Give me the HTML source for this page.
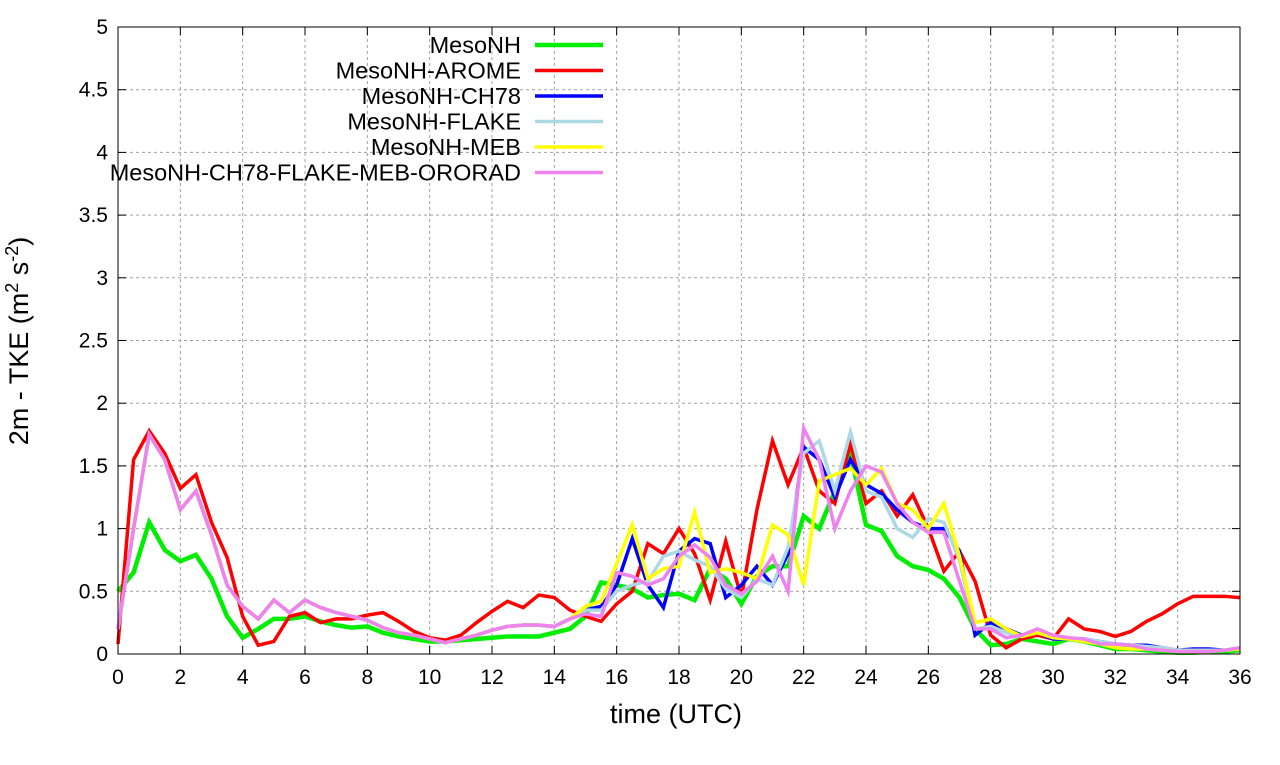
<!DOCTYPE html>
<html><head><meta charset="utf-8"><style>
body{margin:0;background:#fff}
svg text{font-family:"Liberation Sans",sans-serif}
</style></head><body>
<svg id="chart" width="1280" height="760"></svg>
<script>
const hours=[];for(let i=0;i<=72;i++)hours.push(i*0.5);
const early=[0.2,1.0,1.75,1.55,1.15,1.3,0.95,0.55,0.38,0.28,0.43,0.33,0.43,0.37,0.33,0.3,0.27,0.21,0.17,0.15,0.12,0.09,0.12,0.15,0.19,0.22,0.23,0.23,0.22,0.28];
const mesonh=[0.5,0.65,1.05,0.83,0.74,0.79,0.6,0.3,0.13,0.2,0.28,0.28,0.3,0.26,0.23,0.21,0.22,0.17,0.14,0.12,0.1,0.1,0.11,0.12,0.13,0.14,0.14,0.14,0.17,0.2,0.3,0.57,0.55,0.52,0.45,0.47,0.48,0.43,0.68,0.6,0.4,0.62,0.7,0.7,1.1,1.0,1.3,1.6,1.03,0.98,0.78,0.7,0.67,0.6,0.45,0.2,0.07,0.08,0.12,0.1,0.08,0.12,0.1,0.07,0.04,0.04,0.03,0.02,0.01,0.01,0.02,0.02,0.03];
const arome=[0.08,1.55,1.78,1.6,1.32,1.43,1.05,0.77,0.3,0.07,0.1,0.3,0.33,0.25,0.28,0.28,0.31,0.33,0.26,0.18,0.13,0.11,0.15,0.25,0.34,0.42,0.37,0.47,0.45,0.35,0.3,0.26,0.4,0.5,0.88,0.8,1.0,0.8,0.43,0.9,0.45,1.15,1.7,1.35,1.65,1.3,1.2,1.68,1.2,1.3,1.1,1.27,1.0,0.66,0.82,0.58,0.15,0.05,0.12,0.15,0.12,0.28,0.2,0.18,0.14,0.18,0.26,0.32,0.4,0.46,0.46,0.46,0.45];
const ch78=early.concat([0.35,0.38,0.55,0.92,0.55,0.37,0.82,0.92,0.88,0.45,0.55,0.7,0.55,0.8,1.65,1.55,1.25,1.55,1.35,1.28,1.15,1.05,1.0,1.0,0.82,0.15,0.25,0.2,0.15,0.17,0.12,0.12,0.12,0.1,0.08,0.07,0.07,0.05,0.03,0.04,0.04,0.03,0.04]);
const flake=early.concat([0.35,0.35,0.5,0.55,0.58,0.78,0.82,0.75,0.7,0.52,0.45,0.6,0.55,0.85,1.6,1.7,1.3,1.77,1.3,1.25,1.0,0.93,1.08,1.05,0.75,0.2,0.22,0.17,0.14,0.17,0.13,0.12,0.12,0.1,0.08,0.07,0.06,0.05,0.03,0.03,0.03,0.03,0.04]);
const meb=early.concat([0.38,0.42,0.72,1.03,0.6,0.68,0.7,1.13,0.65,0.68,0.65,0.6,1.03,0.95,0.55,1.38,1.43,1.48,1.35,1.48,1.2,1.15,1.0,1.2,0.78,0.25,0.28,0.2,0.14,0.17,0.13,0.12,0.1,0.08,0.05,0.04,0.04,0.03,0.02,0.02,0.02,0.03,0.04]);
const ororad=early.concat([0.32,0.3,0.65,0.62,0.55,0.6,0.78,0.87,0.77,0.55,0.48,0.58,0.78,0.5,1.8,1.55,1.0,1.3,1.5,1.45,1.2,1.05,0.97,0.97,0.58,0.2,0.2,0.13,0.15,0.2,0.15,0.13,0.12,0.08,0.08,0.07,0.04,0.03,0.02,0.02,0.02,0.03,0.05]);
const seriesNames=["MesoNH","MesoNH-AROME","MesoNH-CH78","MesoNH-FLAKE","MesoNH-MEB","MesoNH-CH78-FLAKE-MEB-ORORAD"];
const seriesData=[mesonh,arome,ch78,flake,meb,ororad];
const colors=["#00ee00","#ff0000","#0000ff","#add8e6","#ffff00","#ee82ee"];
const xTicks=[0,2,4,6,8,10,12,14,16,18,20,22,24,26,28,30,32,34,36];
const yTicks=[0,0.5,1,1.5,2,2.5,3,3.5,4,4.5,5];
const yTickLabels=["0","0.5","1","1.5","2","2.5","3","3.5","4","4.5","5"];

const L=118,R=1240,T=27,B=654;
const sx=v=>L+(v/36)*(R-L), sy=v=>B-(v/5)*(B-T);
const svg=document.getElementById('chart');const NS="http://www.w3.org/2000/svg";
function mk(t,a,p){const e=document.createElementNS(NS,t);for(const k in a)e.setAttribute(k,a[k]);(p||svg).appendChild(e);return e;}
const grid=mk('g',{});
xTicks.forEach(v=>{if(v>0&&v<36){mk('line',{x1:sx(v),x2:sx(v),y1:T,y2:B,stroke:'#a0a0a0','stroke-dasharray':'3,3'},grid);}
 const t=mk('text',{x:sx(v),y:B+30,'text-anchor':'middle','font-size':21});t.textContent=v;
 
 mk('line',{x1:sx(v),x2:sx(v),y1:B,y2:B-8,stroke:'#000'});mk('line',{x1:sx(v),x2:sx(v),y1:T,y2:T+8,stroke:'#000'});});
yTicks.forEach((v,i)=>{if(v>0&&v<5)mk('line',{x1:L,x2:R,y1:sy(v),y2:sy(v),stroke:'#a0a0a0','stroke-dasharray':'3,3'},grid);
 const t=mk('text',{x:L-10,y:sy(v)+7,'text-anchor':'end','font-size':21});t.textContent=yTickLabels[i];
 
 mk('line',{x1:L,x2:L+8,y1:sy(v),y2:sy(v),stroke:'#000'});mk('line',{x1:R,x2:R-8,y1:sy(v),y2:sy(v),stroke:'#000'});});
seriesData.forEach((d,si)=>{
 const p=mk('polyline',{points:d.map((v,i)=>sx(hours[i])+','+sy(v)).join(' '),fill:'none',stroke:colors[si],'stroke-width':si==0?4.5:3.5,'stroke-linejoin':'miter'});
 
 const y=45+si*25.5;
 const t=mk('text',{x:521,y:y+8,'text-anchor':'end','font-size':23.5});t.textContent=seriesNames[si];
 
 const l=mk('line',{x1:535,x2:603,y1:y,y2:y,stroke:colors[si],'stroke-width':si==0?4.5:3.5});
 
});
const fr=mk('rect',{x:L,y:T,width:R-L,height:B-T,fill:'none',stroke:'#000'});

const xt=mk('text',{x:676,y:723,'text-anchor':'middle','font-size':27});xt.textContent='time (UTC)';

const yt=mk('text',{transform:'translate(28,341) rotate(-90)','text-anchor':'middle','font-size':27});
yt.innerHTML='2m - TKE (m<tspan font-size="18" dy="-10">2</tspan><tspan dy="10"> s</tspan><tspan font-size="18" dy="-10">-2</tspan><tspan dy="10">)</tspan>';

</script>
</body></html>
